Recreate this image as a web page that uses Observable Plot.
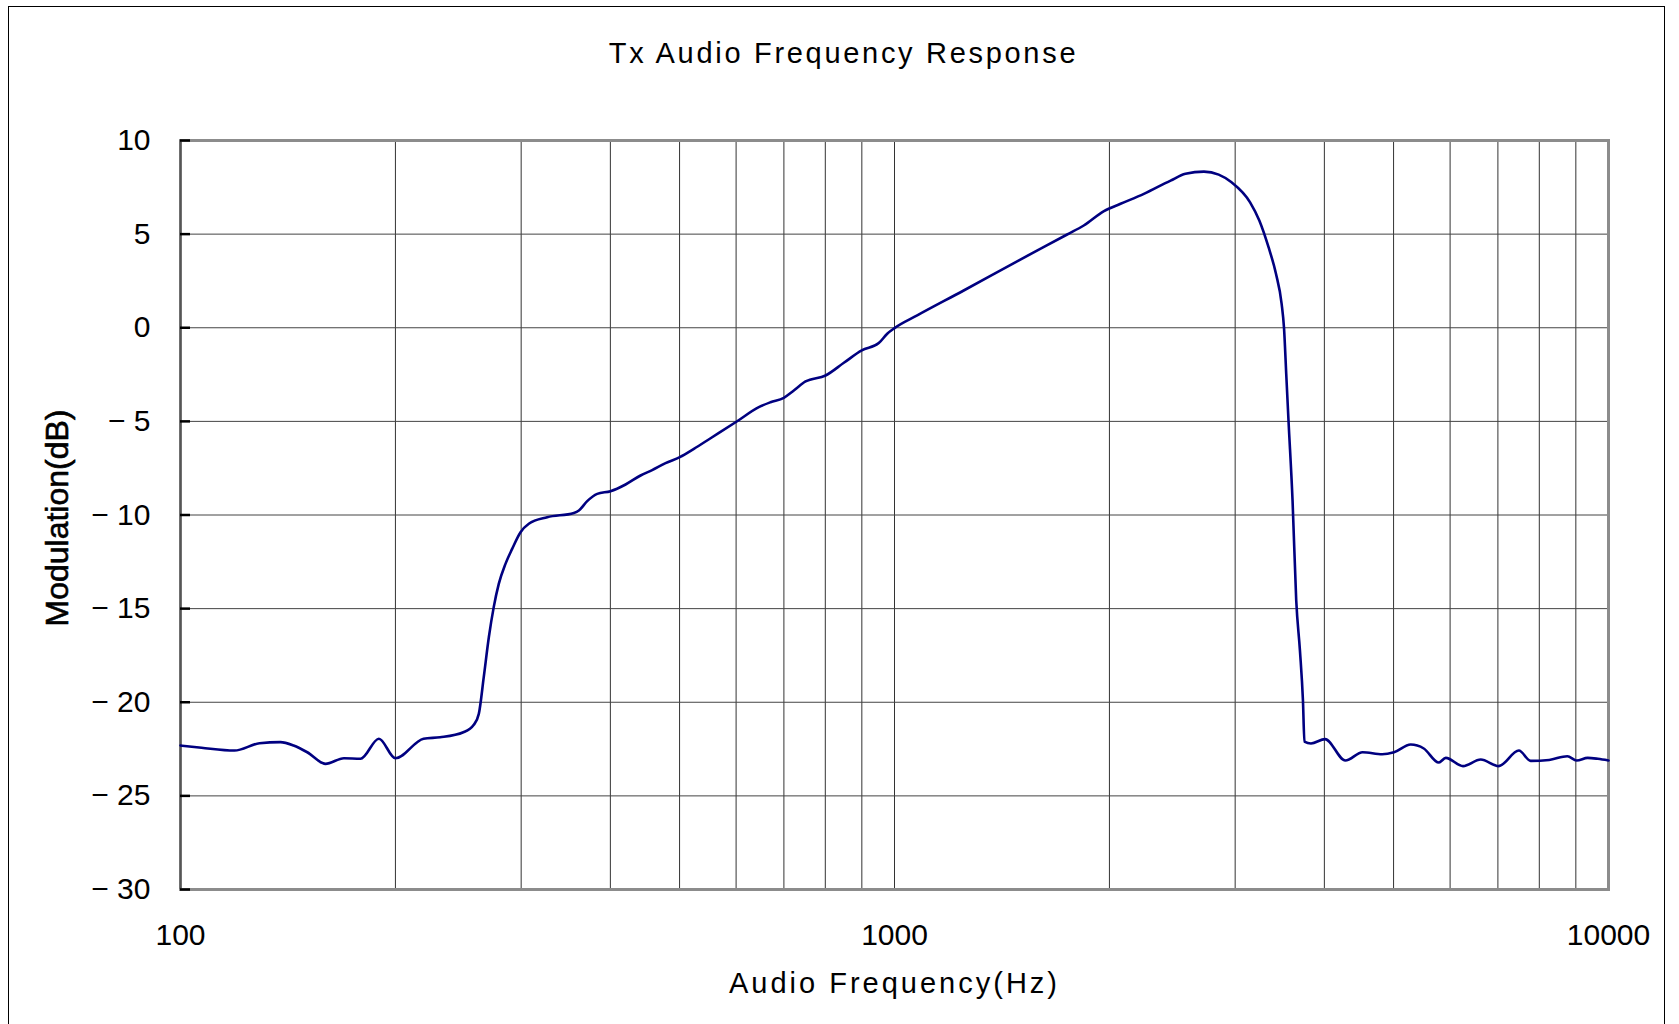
<!DOCTYPE html>
<html>
<head>
<meta charset="utf-8">
<script src="https://cdn.jsdelivr.net/npm/d3@7"></script>
<script src="https://cdn.jsdelivr.net/npm/@observablehq/plot@0.6"></script>
<style>
  html, body { margin: 0; padding: 0; background: #fff; overflow: hidden; }
  #wrap { position: relative; width: 1679px; height: 1024px; }
  #border { position: absolute; left: 8px; top: 6px; width: 1657px; height: 1040px;
            border-top: 1.5px solid #000; border-left: 1.5px solid #000; border-right: 1.5px solid #000; box-sizing: border-box; }
  #chart { position: absolute; left: 0; top: 0; }
</style>
</head>
<body>
<div id="wrap"><div id="chart"></div><div id="border"></div></div>
<script>
const title = "Tx Audio Frequency Response";
const xLabel = "Audio Frequency(Hz)";
const yLabel = "Modulation(dB)";

const xTicks = [100, 1000, 10000];
const xTickLabels = ["100", "1000", "10000"];
const xGrid = [100, 200, 300, 400, 500, 600, 700, 800, 900,
               1000, 2000, 3000, 4000, 5000, 6000, 7000, 8000, 9000, 10000];
const yTicks = [10, 5, 0, -5, -10, -15, -20, -25, -30];
const yTickLabels = ["10", "5", "0", "\u2212 5", "\u2212 10", "\u2212 15", "\u2212 20", "\u2212 25", "\u2212 30"];

// Frequency (Hz) and modulation (dB)
const freqHz = [100, 107, 119, 129, 138, 144, 150.5, 159.6, 169.4, 178.7, 189.6, 200,
  219, 231, 249, 257.5, 261.7, 265.9, 270.3, 274.6, 279.1, 285.2, 291.4, 299.4, 307.5,
  326.3, 355.6, 361.4, 371.2, 383.4, 400.2, 420.1, 440.9, 457.7, 477.9, 500.4, 523.6,
  552.6, 600.5, 645.6, 670.3, 699.8, 722.8, 750.6, 800.6, 849.3, 899.9, 950.6, 976.8,
  1000, 1076, 1250, 1485, 1745, 1841, 1965, 2073, 2235, 2436, 2556, 2713, 2845, 2965,
  3148, 3243, 3341, 3422, 3485, 3512, 3537, 3563, 3610, 3653, 3697, 3733, 3751, 3831,
  4009, 4280, 4525, 4820, 5007, 5284, 5512, 5783, 5917, 6255, 6623, 7017, 7490, 7780,
  8258, 8757, 9026, 9350, 9663, 10000];
const modDb = [-22.31, -22.43, -22.58, -22.19, -22.13, -22.31, -22.67, -23.29, -22.99, -23.02, -21.95, -22.99,
  -21.95, -21.87, -21.6, -21.2, -20.62, -18.66, -16.53, -14.92, -13.68, -12.61, -11.81, -10.92, -10.47,
  -10.12, -9.89, -9.76, -9.26, -8.87, -8.73, -8.37, -7.89, -7.6, -7.23, -6.91, -6.47,
  -5.9, -5.02, -4.24, -3.98, -3.74, -3.35, -2.87, -2.55, -1.87, -1.21, -0.82, -0.32,
  -0.02, 0.66, 1.99, 3.55, 4.98, 5.46, 6.23, 6.62, 7.15, 7.86, 8.22, 8.34, 8.18, 7.77,
  6.7, 5.73, 4.3, 2.88, 1.28, -0.02, -2.46, -4.95, -9.23, -14.57, -17.24, -19.91, -22.1, -22.2,
  -21.97, -23.11, -22.67, -22.78, -22.67, -22.26, -22.47, -23.22, -22.97, -23.41, -23.06, -23.41, -22.58, -23.13,
  -23.08, -22.88, -23.11, -22.97, -23.02, -23.11];

const data = freqHz.map((f, i) => ({f, db: modDb[i]}));

const chart = Plot.plot({
  width: 1679,
  height: 1024,
  marginLeft: 180,
  marginRight: 71,
  marginTop: 140,
  marginBottom: 135,
  x: {type: "log", domain: [100, 10000], label: null},
  y: {domain: [-30, 10], label: null},
  style: {fontFamily: "'Liberation Sans', Arial, sans-serif", fontSize: "30px", color: "#000", background: "transparent"},
  marks: [
    Plot.gridX(xGrid, {stroke: "#333", strokeOpacity: 1, strokeWidth: 1}),
    Plot.gridY(yTicks, {stroke: "#444", strokeOpacity: 1, strokeWidth: 1}),
    Plot.frame({stroke: "#8c8c8c", strokeWidth: 3}),
    Plot.ruleX([100], {stroke: "#555", strokeWidth: 2}),
    Plot.axisY(yTicks, {tickSize: -10, stroke: "#000", strokeWidth: 2.5, tickFormat: () => "", label: null}),
    Plot.axisY(yTicks, {tickSize: 0, tickPadding: 30, tickFormat: d => yTickLabels[yTicks.indexOf(d)], label: null, fontSize: 30}),
    Plot.axisX(xTicks, {tickSize: 0, tickPadding: 34, tickFormat: d => xTickLabels[xTicks.indexOf(d)], label: null, fontSize: 30}),
    Plot.line(data, {x: "f", y: "db", stroke: "#000080", strokeWidth: 2.6, curve: "monotone-x"}),
    Plot.text([title], {frameAnchor: "top", dx: -51, dy: -98, fontSize: 29, fill: "#000"}),
    Plot.text([xLabel], {frameAnchor: "bottom", dy: 103, fontSize: 29, fill: "#000"}),
    Plot.text([yLabel], {frameAnchor: "left", textAnchor: "middle", dx: -123, dy: 3, rotate: -90, fontSize: 32, fill: "#000", stroke: "#000", strokeWidth: 0.6})
  ]
});
chart.querySelectorAll("text").forEach(t => {
  const s = t.textContent;
  if (s === title) t.setAttribute("letter-spacing", "2.7");
  if (s === xLabel) t.setAttribute("letter-spacing", "3");
});
document.getElementById("chart").appendChild(chart);
</script>
</body>
</html>
